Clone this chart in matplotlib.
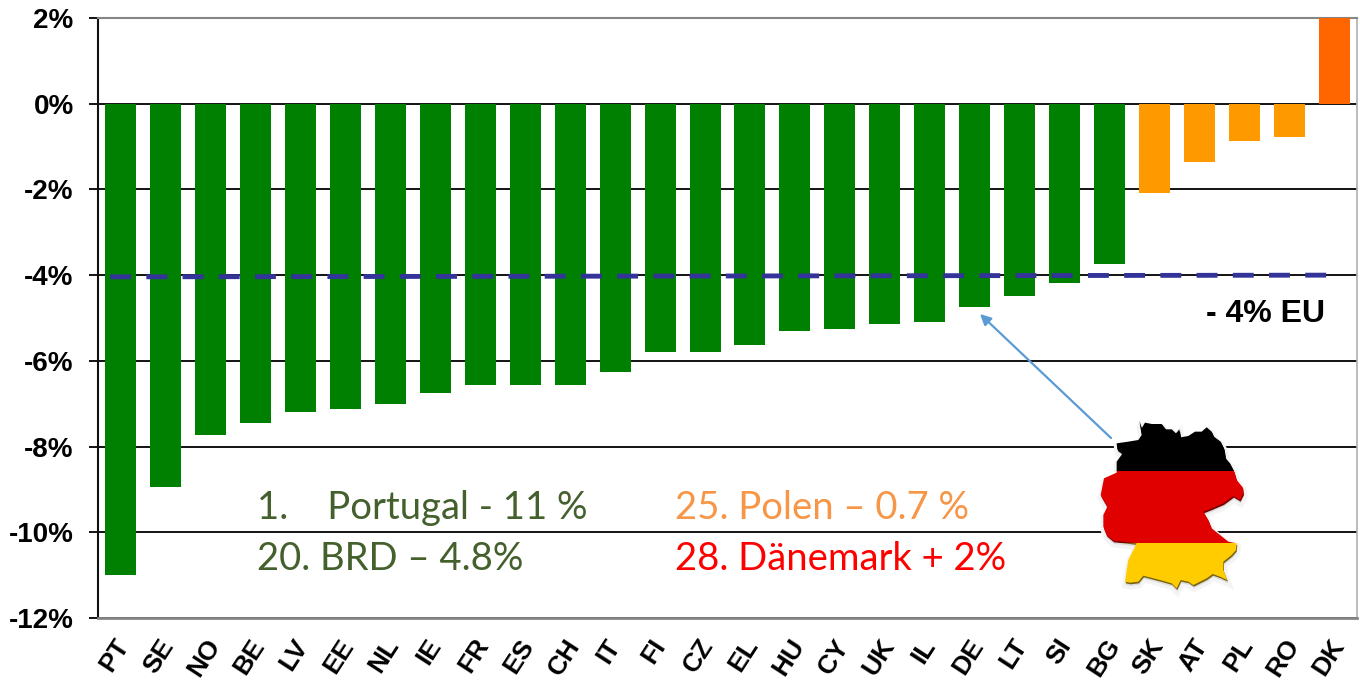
import numpy as np
from matplotlib import pyplot as plt
from matplotlib.patches import Polygon, Rectangle
from matplotlib.transforms import ScaledTranslation
import matplotlib.patheffects as pe

countries = ['PT', 'SE', 'NO', 'BE', 'LV', 'EE', 'NL', 'IE', 'FR', 'ES', 'CH', 'IT', 'FI', 'CZ',
             'EL', 'HU', 'CY', 'UK', 'IL', 'DE', 'LT', 'SI', 'BG', 'SK', 'AT', 'PL', 'RO', 'DK']
values = [-11.0, -8.94, -7.73, -7.45, -7.2, -7.12, -7.0, -6.75, -6.56, -6.56, -6.56, -6.26, -5.79, -5.79,
          -5.63, -5.3, -5.25, -5.14, -5.09, -4.74, -4.49, -4.18, -3.74, -2.08, -1.36, -0.87, -0.77, 2.0]
colors = ['#008000'] * 23 + ['#FF9900'] * 4 + ['#FF6600']
y_ticks = [2, 0, -2, -4, -6, -8, -10, -12]
# the hand drawn EU line sits a little low at its left end
eu_x = [-0.23, 26.88]
eu_y = [-4.04, -4.0]

# outline of the map, in pixels of the zoomed crop
germany = [(238, 62), (245, 85), (255, 68), (275, 72), (305, 72), (318, 88), (335, 88), (348, 100), (358, 88),
           (362, 112), (385, 108), (405, 95), (425, 95), (440, 82), (455, 95), (462, 110), (482, 125), (492, 145),
           (497, 175), (510, 190), (522, 213), (530, 240), (548, 262), (550, 280), (540, 300), (520, 288),
           (490, 310), (455, 325), (430, 335), (445, 360), (455, 385), (480, 405), (505, 425), (530, 430),
           (528, 450), (515, 465), (490, 485), (490, 510), (502, 540), (480, 530), (458, 522), (440, 535),
           (400, 555), (385, 545), (362, 540), (350, 565), (335, 550), (300, 540), (250, 527), (235, 545),
           (210, 548), (195, 545), (200, 510), (205, 480), (225, 440), (230, 430), (190, 425), (160, 422),
           (140, 405), (130, 380), (130, 345), (142, 320), (122, 285), (132, 235), (170, 218), (170, 185),
           (188, 160), (172, 148), (170, 130), (205, 125), (235, 120), (245, 105)]

W, H = 1360, 682
plt.rcParams['font.family'] = ['Liberation Sans', 'DejaVu Sans']


def px_axes(x, y, w, h):
    return [x / W, 1 - (y + h) / H, w / W, h / H]


fig = plt.figure(figsize=(W / 100, H / 100), dpi=100)
ax = fig.add_axes(px_axes(98, 18, 1259, 600))

x = np.arange(len(countries))
ax.bar(x, values, width=0.69, color=colors, zorder=3)
ax.plot(eu_x, eu_y, color='#333399', lw=3.5, zorder=4, dashes=(4.3, 3.15), dash_capstyle='butt')

ax.set_xlim(-0.5, len(countries) - 0.5)
ax.set_ylim(-12, 2)
ax.set_yticks(y_ticks)
ax.set_yticklabels([f'{v}%' for v in y_ticks], fontsize=20, fontweight='bold')
ax.set_xticks(x)
ax.set_xticklabels(countries, fontsize=19, fontweight='bold', rotation=57, ha='center', va='top')
ax.tick_params(axis='x', length=0, pad=12)
ax.tick_params(axis='y', length=6.5, width=1.3, pad=11)
# labels sit a bit left of the bar centres
shift = ScaledTranslation(-0.06, 0, fig.dpi_scale_trans)
for lab in ax.get_xticklabels():
    lab.set_transform(lab.get_transform() + shift)
ax.grid(axis='y', color='black', lw=1.3, zorder=1)
ax.set_axisbelow(True)

ax.spines['left'].set_color('#111111')
ax.spines['left'].set_linewidth(1.5)
ax.spines['top'].set_color('#868686')
ax.spines['top'].set_linewidth(1.5)
ax.spines['bottom'].set_color('#868686')
ax.spines['bottom'].set_linewidth(2)
ax.spines['right'].set_color('#b0b0b0')
ax.spines['right'].set_linewidth(1.2)

fig.text(1266 / W, 1 - 314 / H, '- 4% EU', fontsize=23, fontweight='bold', ha='center', va='center')

note_font = ['Lato', 'DejaVu Sans']
fig.text(257 / W, 1 - 508 / H, '1.    Portugal - 11 %', fontsize=27.5, color='#44602C', family=note_font, va='center')
fig.text(257 / W, 1 - 559 / H, '20. BRD \u2013 4.8%', fontsize=27.5, color='#44602C', family=note_font, va='center')
fig.text(675 / W, 1 - 508 / H, '25. Polen \u2013 0.7 %', fontsize=27.5, color='#F79646', family=note_font, va='center')
fig.text(675 / W, 1 - 559 / H, '28. D\u00e4nemark + 2%', fontsize=27.5, color='#FF0000', family=note_font, va='center')

# arrow to the DE bar
ax.annotate('', xy=(980 / W, 1 - 314 / H), xytext=(1111 / W, 1 - 438 / H),
            xycoords='figure fraction', textcoords='figure fraction',
            arrowprops=dict(arrowstyle='-|>', color='#5B9BD5', lw=1.6, mutation_scale=16,
                            shrinkA=0, shrinkB=0), zorder=5)

# flag shaped map, drawn on top of the grid
mp = fig.add_axes(px_axes(1060, 400, 220, 200))
mp.set_xlim(0, 660)
mp.set_ylim(600, 0)
mp.axis('off')
mp.add_patch(Polygon([(px + 2, py + 10) for px, py in germany], closed=True, fc='#dddddd', ec='none',
                     path_effects=[pe.Stroke(linewidth=5, foreground='#f4f4f4'), pe.Normal()]))


def flag(points, stripe_colors):
    outline = Polygon(points, closed=True, fc='none', ec='none')
    mp.add_patch(outline)
    for top, height, col in zip((0, 213, 428), (213, 215, 172), stripe_colors):
        stripe = Rectangle((0, top), 660, height, fc=col, ec='none')
        mp.add_patch(stripe)
        stripe.set_clip_path(outline)


# darker copy underneath gives the raised edge
flag([(px + 2, py + 5) for px, py in germany], ('#000000', '#7a0000', '#7a6410'))
flag(germany, ('#000000', '#E10000', '#FFCC00'))

fig.savefig('out.png', dpi=100, facecolor='white')
